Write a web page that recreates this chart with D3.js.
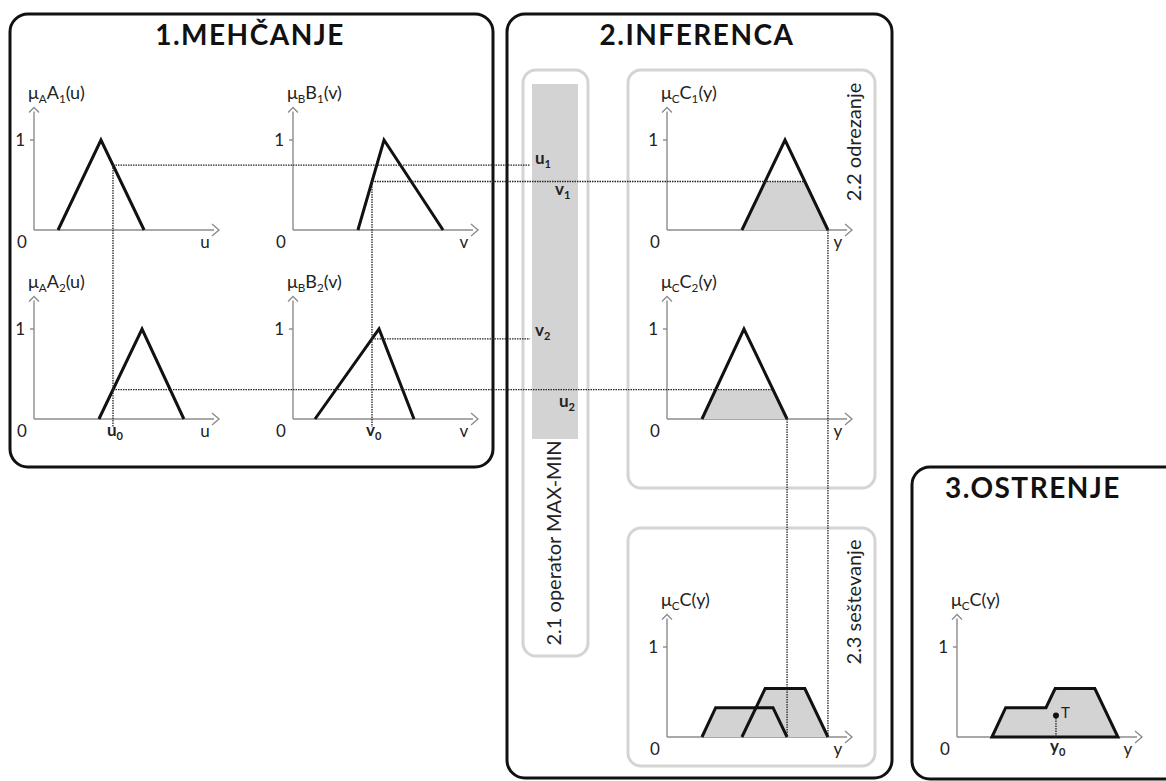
<!DOCTYPE html>
<html>
<head>
<meta charset="utf-8">
<script src="https://cdn.jsdelivr.net/npm/d3@7"></script>
<style>
  body { margin: 0; background: #fff; }
  svg { display: block; font-family: Lato, "Open Sans", sans-serif; }
</style>
</head>
<body>
<div id="chart"></div>
<script>
// membership functions, triangles as [start, peak, end] on a 0..10 axis
const muA1 = [1.3, 3.62, 5.95];
const muA2 = [3.51, 5.84, 8.1];
const muB1 = [3.51, 4.92, 8.11];
const muB2 = [1.19, 4.65, 6.54];
const muC1 = [4.05, 6.38, 8.7];
const muC2 = [1.89, 4.16, 6.49];
const u0 = 4.27, v0 = 4.27;
const centroid = [5.35, 0.24];   // point T
const xDomain = [0, 10];
const yTicks = [1];

const width = 1166, height = 781;
const plotW = 185, unitH = 90;

const svg = d3.select("#chart").append("svg")
  .attr("width", width)
  .attr("height", height);

// --- frames ---
const panels = [
  { x: 10, y: 14, w: 483, h: 453, title: "1.MEHČANJE", tx: 250, ty: 45 },
  { x: 507, y: 14, w: 385, h: 764, title: "2.INFERENCA", tx: 697, ty: 45 },
  { x: 912, y: 467, w: 290, h: 312, title: "3.OSTRENJE", tx: 1033, ty: 498 }
];
const subBoxes = [
  { x: 523, y: 70, w: 65, h: 586 },
  { x: 628, y: 70, w: 247, h: 418 },
  { x: 628, y: 528, w: 247, h: 238 }
];

svg.selectAll("rect.sub").data(subBoxes).join("rect")
  .attr("class", "sub")
  .attr("x", d => d.x).attr("y", d => d.y)
  .attr("width", d => d.w).attr("height", d => d.h)
  .attr("rx", 13)
  .attr("fill", "none").attr("stroke", "#d4d4d4").attr("stroke-width", 3);

// MAX-MIN bar
svg.append("rect")
  .attr("x", 532).attr("y", 84).attr("width", 46).attr("height", 355)
  .attr("fill", "#d3d3d3");

svg.selectAll("rect.panel").data(panels).join("rect")
  .attr("class", "panel")
  .attr("x", d => d.x).attr("y", d => d.y)
  .attr("width", d => d.w).attr("height", d => d.h)
  .attr("rx", 18)
  .attr("fill", "none").attr("stroke", "#111").attr("stroke-width", 3);

svg.selectAll("text.title").data(panels).join("text")
  .attr("class", "title")
  .attr("x", d => d.tx).attr("y", d => d.ty)
  .attr("text-anchor", "middle")
  .attr("font-size", 28).attr("font-weight", "bold").attr("fill", "#111")
  .attr("letter-spacing", 1.5)
  .text(d => d.title);

const sideLabels = [
  { x: 561, y: 543, text: "2.1 operator MAX-MIN" },
  { x: 861, y: 142, text: "2.2 odrezanje" },
  { x: 861, y: 602, text: "2.3 seštevanje" }
];
svg.selectAll("text.side").data(sideLabels).join("text")
  .attr("class", "side")
  .attr("transform", d => `translate(${d.x},${d.y}) rotate(-90)`)
  .attr("text-anchor", "middle")
  .attr("font-size", 20).attr("fill", "#222")
  .text(d => d.text);

// --- chart helpers ---
function makeChart(ox, oy) {
  return {
    x: d3.scaleLinear().domain(xDomain).range([ox, ox + plotW]),
    y: d3.scaleLinear().domain([0, 1]).range([oy, oy - unitH])
  };
}

function richText(g, parts, x, y, size, weight) {
  const t = g.append("text").attr("x", x).attr("y", y)
    .attr("font-size", size).attr("font-weight", weight || "normal").attr("fill", "#222");
  let shifted = false;
  parts.forEach(([s, sub]) => {
    const ts = t.append("tspan").text(s);
    if (sub && !shifted) { ts.attr("dy", 4).attr("font-size", size * 0.65); shifted = true; }
    else if (sub) ts.attr("font-size", size * 0.65);
    else if (shifted) { ts.attr("dy", -4); shifted = false; }
  });
  return t;
}

function drawAxes(c, label, varName) {
  const g = svg.append("g");
  const [ox, oy] = [c.x(0), c.y(0)];
  const tipX = c.x(xDomain[1]), tipY = c.y(1.36);
  g.append("line").attr("x1", ox).attr("y1", oy).attr("x2", tipX - 5).attr("y2", oy);
  g.append("line").attr("x1", ox).attr("y1", oy).attr("x2", ox).attr("y2", tipY + 4);
  g.append("path").attr("d", `M${tipX - 7},${oy - 6}L${tipX},${oy}L${tipX - 7},${oy + 6}`).attr("fill", "none");
  g.append("path").attr("d", `M${ox - 5},${tipY + 5}L${ox},${tipY}L${ox + 5},${tipY + 5}`).attr("fill", "none");
  g.selectAll("line.tick").data(yTicks).join("line")
    .attr("x1", ox - 4).attr("x2", ox)
    .attr("y1", d => c.y(d)).attr("y2", d => c.y(d));
  g.selectAll("line, path").attr("stroke", "#8c8c8c").attr("stroke-width", 1.4);
  g.selectAll("text.tl").data(yTicks).join("text")
    .attr("x", ox - 9).attr("y", d => c.y(d) + 6)
    .attr("text-anchor", "end").attr("font-size", 17).attr("fill", "#222")
    .text(d => d);
  g.append("text").attr("x", ox - 12).attr("y", oy + 18)
    .attr("text-anchor", "middle").attr("font-size", 17).attr("fill", "#222").text("0");
  g.append("text").attr("x", tipX - 14).attr("y", oy + 18)
    .attr("text-anchor", "middle").attr("font-size", 17).attr("fill", "#222").text(varName);
  richText(g, label, ox - 6, oy - 131, 18);
}

const tri = (p, v) => v <= p[0] || v >= p[2] ? 0 : v <= p[1] ? (v - p[0]) / (p[1] - p[0]) : (p[2] - v) / (p[2] - p[1]);
const triPts = p => [[p[0], 0], [p[1], 1], [p[2], 0]];
const clipPts = (p, a) => [[p[0], 0], [p[0] + a * (p[1] - p[0]), a], [p[2] - a * (p[2] - p[1]), a], [p[2], 0]];

function shape(c, pts, fill, stroke) {
  svg.append("path")
    .attr("d", d3.line().x(d => c.x(d[0])).y(d => c.y(d[1]))(pts) + (fill ? "Z" : ""))
    .attr("fill", fill || "none")
    .attr("stroke", stroke === false ? "none" : "#111").attr("stroke-width", 3)
    .attr("stroke-linejoin", "miter");
}

function outline(c, pts) {
  shape(c, pts, null);
}

function dotted(x1, y1, x2, y2) {
  svg.append("line")
    .attr("x1", x1).attr("y1", y1).attr("x2", x2).attr("y2", y2)
    .attr("stroke", "#222").attr("stroke-width", 1.3)
    .attr("stroke-dasharray", "1.5,1");
}

// --- charts ---
const cA1 = makeChart(34, 230), cB1 = makeChart(293, 230);
const cA2 = makeChart(34, 419), cB2 = makeChart(293, 419);
const cC1 = makeChart(667, 230), cC2 = makeChart(667, 419);
const cC = makeChart(667, 737), cD = makeChart(957, 737);

const a1 = tri(muA1, u0), a2 = tri(muA2, u0);
const b1 = tri(muB1, v0), b2 = tri(muB2, v0);
const alpha1 = Math.min(a1, b1), alpha2 = Math.min(a2, b2);
const c1 = clipPts(muC1, alpha1), c2 = clipPts(muC2, alpha2);

drawAxes(cA1, [["μ"], ["A", 1], ["A"], ["1", 1], ["(u)"]], "u");
drawAxes(cB1, [["μ"], ["B", 1], ["B"], ["1", 1], ["(v)"]], "v");
drawAxes(cA2, [["μ"], ["A", 1], ["A"], ["2", 1], ["(u)"]], "u");
drawAxes(cB2, [["μ"], ["B", 1], ["B"], ["2", 1], ["(v)"]], "v");
drawAxes(cC1, [["μ"], ["C", 1], ["C"], ["1", 1], ["(y)"]], "y");
drawAxes(cC2, [["μ"], ["C", 1], ["C"], ["2", 1], ["(y)"]], "y");
drawAxes(cC, [["μ"], ["C", 1], ["C(y)"]], "y");
drawAxes(cD, [["μ"], ["C", 1], ["C(y)"]], "y");

// clipped areas (fill only) under the triangle outlines
shape(cC1, c1, "#d3d3d3", false);
shape(cC2, c2, "#d3d3d3", false);
[muA1, muA2, muB1, muB2, muC1, muC2].forEach((p, i) => {
  outline([cA1, cA2, cB1, cB2, cC1, cC2][i], triPts(p));
});

// aggregation: both fills, then both outlines
shape(cC, c2, "#d3d3d3", false);
shape(cC, c1, "#d3d3d3", false);
outline(cC, c2);
outline(cC, c1);

// union of both clipped sets
const meet = muC1[0] + alpha2 * (muC1[1] - muC1[0]);
shape(cD, [c2[0], c2[1], [meet, alpha2], c1[1], c1[2], c1[3]], "#d3d3d3");

// --- guide lines ---
dotted(cA1.x(u0), cA1.y(a1), cA1.x(u0), cA2.y(0) + 8);
dotted(cB1.x(v0), cB1.y(b1), cB1.x(v0), cB2.y(0) + 8);
dotted(cA1.x(u0), cA1.y(a1), a1 <= b1 ? cC1.x(c1[2][0]) : 530, cA1.y(a1));
dotted(cB1.x(v0), cB1.y(b1), b1 < a1 ? cC1.x(c1[2][0]) : 530, cB1.y(b1));
dotted(cA2.x(u0), cA2.y(a2), a2 <= b2 ? cC2.x(c2[2][0]) : 530, cA2.y(a2));
dotted(cB2.x(v0), cB2.y(b2), b2 < a2 ? cC2.x(c2[2][0]) : 530, cB2.y(b2));
dotted(cC1.x(muC1[2]), cC1.y(0), cC1.x(muC1[2]), cC.y(0));
dotted(cC2.x(muC2[2]), cC2.y(0), cC2.x(muC2[2]), cC.y(0));
dotted(cD.x(centroid[0]), cD.y(centroid[1]), cD.x(centroid[0]), cD.y(0));

svg.append("circle")
  .attr("cx", cD.x(centroid[0])).attr("cy", cD.y(centroid[1])).attr("r", 3)
  .attr("fill", "#111");
svg.append("text")
  .attr("x", cD.x(centroid[0]) + 5).attr("y", cD.y(centroid[1]) + 3)
  .attr("font-size", 15).attr("fill", "#222").text("T");

// --- bold value labels ---
const g = svg.append("g");
richText(g, [["u"], ["1", 1]], 535, cA1.y(a1) - 1, 17, "bold");
richText(g, [["v"], ["1", 1]], 555, cB1.y(b1) + 14, 17, "bold");
richText(g, [["v"], ["2", 1]], 535, cB2.y(b2) - 3, 17, "bold");
richText(g, [["u"], ["2", 1]], 559, cA2.y(a2) + 17, 17, "bold");
richText(g, [["u"], ["0", 1]], cA2.x(u0) - 6, cA2.y(0) + 17, 17, "bold");
richText(g, [["v"], ["0", 1]], cB2.x(v0) - 6, cB2.y(0) + 17, 17, "bold");
richText(g, [["y"], ["0", 1]], cD.x(centroid[0]) - 6, cD.y(0) + 15, 17, "bold");
</script>
</body>
</html>
